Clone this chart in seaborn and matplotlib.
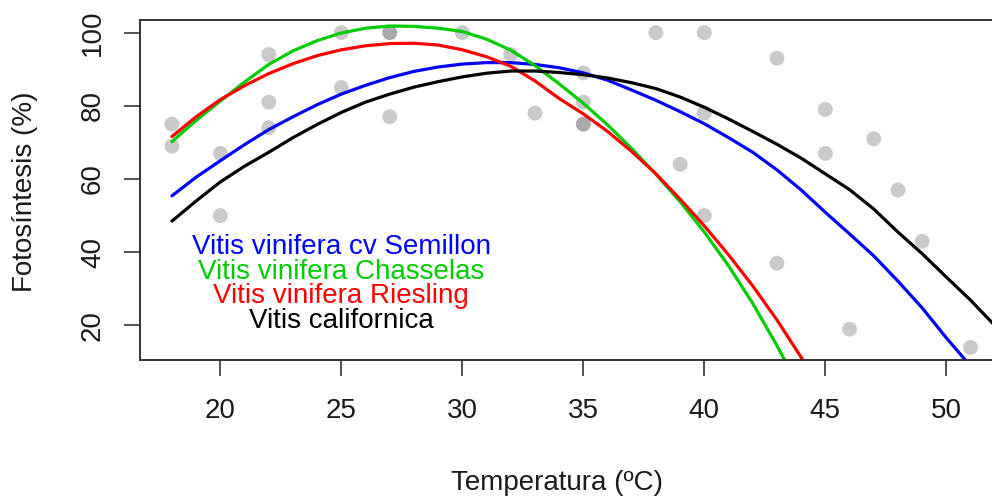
import numpy as np
import pandas as pd
import matplotlib
matplotlib.use("Agg")
import matplotlib.pyplot as plt
import seaborn as sns

# ---- observed points (temperature, photosynthesis %) ----
obs_temp = [18, 18, 20, 20, 22, 22, 22, 25, 25, 27, 27, 27, 30, 32, 33,
            35, 35, 35, 35, 38, 39, 40, 40, 40, 43, 43, 45, 45, 46, 47, 48, 49, 51]
obs_photo = [75, 69, 67, 50, 94, 81, 74, 100, 85, 100, 100, 77, 100, 94, 78,
             89, 81, 75, 75, 100, 64, 100, 78, 50, 93, 37, 79, 67, 19, 71, 57, 43, 14]

# ---- fitted curves ----
curve_temp = list(range(18, 53))
semillon = [55.4, 60.5, 65.0, 69.4, 73.5, 77.0, 80.3, 83.2, 85.6, 87.7, 89.4, 90.6,
            91.4, 91.8, 91.8, 91.3, 90.4, 89.0, 87.0, 84.3, 81.5, 78.4, 75.1, 71.3,
            67.3, 62.5, 57.0, 50.9, 45.0, 39.0, 32.1, 24.8, 16.6, 8.9, 1.0]
chasselas = [70.2, 76.0, 81.3, 86.5, 91.3, 95.0, 97.8, 99.9, 101.2, 101.8, 101.7,
             101.2, 100.3, 98.2, 95.2, 91.0, 86.0, 80.7, 74.8, 68.3, 61.3, 53.8,
             45.5, 36.3, 26.0, 14.5, 2.0]
riesling = [71.6, 77.0, 81.7, 85.5, 88.8, 91.5, 93.7, 95.3, 96.4, 97.0, 97.1, 96.6,
            95.3, 93.4, 90.8, 86.8, 82.0, 77.8, 73.0, 67.5, 61.4, 54.5, 47.2, 39.3,
            30.8, 21.5, 11.3, 0.0]
californica = [48.5, 54.0, 59.2, 63.5, 67.3, 71.3, 74.9, 78.2, 81.0, 83.2, 85.1, 86.6,
               87.9, 88.9, 89.5, 89.5, 89.1, 88.5, 87.6, 86.3, 84.7, 82.4, 79.6, 76.4,
               73.0, 69.5, 65.7, 61.4, 57.1, 51.8, 45.5, 39.6, 33.2, 26.9, 20.0]

series_names = ["Vitis vinifera cv Semillon", "Vitis vinifera Chasselas",
                "Vitis vinifera Riesling", "Vitis californica"]
series_values = [semillon, chasselas, riesling, californica]
series_colors = ["#0000FF", "#00CD00", "#FF0000", "#000000"]

x_ticks = [20, 25, 30, 35, 40, 45, 50]
y_ticks = [20, 40, 60, 80, 100]

sns.set_theme(style="white")
plt.rcParams["font.family"] = ["Liberation Sans", "DejaVu Sans"]

W, H = 992, 497
fig = plt.figure(figsize=(W / 100, H / 100), dpi=100)
ax = fig.add_axes([140 / W, (H - 360) / H, 862.5 / W, 340 / H])

pts = pd.DataFrame({"temp": obs_temp, "photo": obs_photo})
sns.scatterplot(data=pts, x="temp", y="photo", ax=ax, color="#808080", alpha=0.42,
                s=115, edgecolor="none", zorder=1)

rows = []
for name, vals in zip(series_names, series_values):
    for t, v in zip(curve_temp, vals):
        rows.append((name, t, v))
curves = pd.DataFrame(rows, columns=["species", "temp", "photo"])
sns.lineplot(data=curves, x="temp", y="photo", hue="species", hue_order=series_names,
             palette=series_colors, linewidth=2.3, estimator=None, sort=False,
             legend=False, ax=ax, zorder=2)

ax.set_xlim(16.68, 52.32)
ax.set_ylim(10.56, 103.44)
ax.set_xticks(x_ticks)
ax.set_yticks(y_ticks)
ax.set_xticklabels([str(v) for v in x_ticks])
ax.set_yticklabels([str(v) for v in y_ticks], rotation=90, va="center")
ax.tick_params(axis="both", which="major", bottom=True, left=True, direction="out",
               length=11.5, width=1.2, color="#333333", labelsize=20,
               labelcolor="#1a1a1a")
ax.tick_params(axis="x", pad=16)
ax.tick_params(axis="y", pad=13)
for sp in ax.spines.values():
    sp.set_color("#333333")
    sp.set_linewidth(1.4)
ax.set_xlabel("")
ax.set_ylabel("")

label_y = [39.5, 32.6, 26.2, 19.4]
for name, col, yy in zip(series_names, series_colors, label_y):
    ax.text(25, yy, name, color=col, fontsize=20, ha="center", va="baseline")

fig.text(557 / W, 1 - 483 / H, "Temperatura (ºC)", ha="center", va="center",
         fontsize=20, color="#1a1a1a")
fig.text(25.5 / W, 1 - 192 / H, "Fotosíntesis (%)", ha="center", va="center",
         rotation=90, fontsize=20, color="#1a1a1a")

fig.savefig("out.png", dpi=100)
